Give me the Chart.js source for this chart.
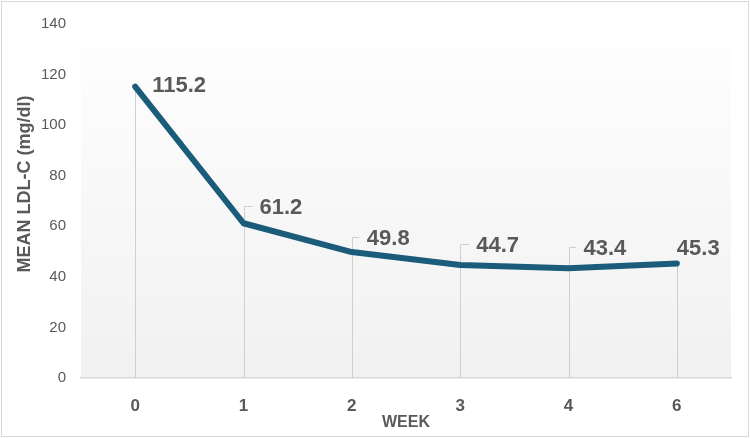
<!DOCTYPE html>
<html>
<head>
<meta charset="utf-8">
<script src="https://cdn.jsdelivr.net/npm/chart.js@4"></script>
<style>
  html, body { margin: 0; padding: 0; background: #ffffff; }
  #wrap { position: relative; width: 750px; height: 438px; box-sizing: border-box; }
  #frame { position: absolute; left: 1px; top: 1px; width: 748px; height: 436px; box-sizing: border-box; border: 1px solid #d9d9d9; pointer-events: none; }
  canvas { display: block; }
</style>
</head>
<body>
<div id="wrap">
  <canvas id="c" width="750" height="438"></canvas>
  <div id="frame"></div>
</div>
<script>
// ---- data ----
const weeks = ['0', '1', '2', '3', '4', '6'];
const meanLDL = [115.2, 61.2, 49.8, 44.7, 43.4, 45.3];
const valueLabels = ['115.2', '61.2', '49.8', '44.7', '43.4', '45.3'];
const yTicks = [0, 20, 40, 60, 80, 100, 120, 140];
const xTitle = 'WEEK';
const yTitle = 'MEAN LDL-C (mg/dl)';

// ---- styling for labels (offsets from each point, in px) ----
const labelStyle = [
  { dx: 17, dy: -1,  leader: false },
  { dx: 16, dy: -15, leader: true },
  { dx: 15, dy: -13, leader: true },
  { dx: 16, dy: -19, leader: true },
  { dx: 15, dy: -19, leader: true },
  { dx: 0,  dy: -15, leader: false }
];

const TXT = '#595959';
const LINE = '#1a5c7a';
const SANS = '"Liberation Sans", Arial, sans-serif';

const bgPlugin = {
  id: 'plotBg',
  beforeDraw(chart) {
    const { ctx, chartArea: a } = chart;
    const g = ctx.createLinearGradient(0, a.top, 0, a.bottom);
    g.addColorStop(0, '#ffffff');
    g.addColorStop(0.12, '#fdfdfd');
    g.addColorStop(1, '#f1f1f1');
    ctx.save();
    ctx.fillStyle = g;
    ctx.fillRect(a.left, a.top, a.right - a.left, a.bottom - a.top);
    ctx.restore();
  }
};

const yTitlePlugin = {
  id: 'yTitle',
  afterDraw(chart) {
    const { ctx } = chart;
    ctx.save();
    ctx.translate(25, 184);
    ctx.rotate(-Math.PI / 2);
    ctx.fillStyle = TXT;
    ctx.font = 'bold 18px ' + SANS;
    ctx.textAlign = 'center';
    ctx.textBaseline = 'middle';
    ctx.fillText(yTitle, 0, 0);
    ctx.restore();
  }
};

const dropPlugin = {
  id: 'dropLines',
  beforeDatasetsDraw(chart) {
    const { ctx, chartArea: a } = chart;
    const meta = chart.getDatasetMeta(0);
    ctx.save();
    ctx.strokeStyle = '#cfcfcf';
    ctx.lineWidth = 1;
    meta.data.forEach((pt, i) => {
      const x = Math.round(pt.x) + 0.5;
      ctx.beginPath();
      ctx.moveTo(x, pt.y);
      ctx.lineTo(x, a.bottom);
      ctx.stroke();
      const s = labelStyle[i];
      if (s.leader) {
        const ly = Math.round(pt.y + s.dy - 2) + 0.5;
        ctx.beginPath();
        ctx.moveTo(x, pt.y);
        ctx.lineTo(x, ly);
        ctx.lineTo(pt.x + s.dx - 7, ly);
        ctx.stroke();
      }
    });
    ctx.restore();
  }
};

const labelPlugin = {
  id: 'valueLabels',
  afterDatasetsDraw(chart) {
    const { ctx } = chart;
    const meta = chart.getDatasetMeta(0);
    ctx.save();
    ctx.fillStyle = TXT;
    ctx.font = 'bold 22px ' + SANS;
    ctx.textAlign = 'left';
    ctx.textBaseline = 'middle';
    meta.data.forEach((pt, i) => {
      const s = labelStyle[i];
      ctx.fillText(valueLabels[i], pt.x + s.dx, pt.y + s.dy);
    });
    ctx.restore();
  }
};

new Chart(document.getElementById('c'), {
  type: 'line',
  data: {
    labels: weeks,
    datasets: [{
      data: meanLDL,
      borderColor: LINE,
      backgroundColor: LINE,
      borderWidth: 6,
      borderCapStyle: 'round',
      borderJoinStyle: 'round',
      pointRadius: 0,
      pointHoverRadius: 0,
      tension: 0,
      fill: false
    }]
  },
  options: {
    responsive: false,
    animation: false,
    events: [],
    layout: { padding: { top: 22, right: 19, bottom: 0, left: 0 } },
    plugins: {
      legend: { display: false },
      tooltip: { enabled: false },
      title: { display: false }
    },
    scales: {
      x: {
        type: 'category',
        offset: true,
        grid: { display: false, drawTicks: false },
        border: { display: true, color: '#d9d9d9', width: 1.5 },
        ticks: {
          color: TXT,
          font: { family: SANS, size: 17, weight: 'bold' },
          padding: 18,
          maxRotation: 0
        },
        title: {
          display: true,
          text: xTitle,
          color: TXT,
          font: { family: SANS, size: 16, weight: 'bold' },
          padding: { top: 0, bottom: 6 }
        },
        afterFit(scale) { scale.height = 60; }
      },
      y: {
        min: 0,
        max: 140,
        afterBuildTicks(scale) { scale.ticks = yTicks.map(v => ({ value: v })); },
        grid: { display: false, drawTicks: false },
        border: { display: false },
        ticks: {
          color: TXT,
          font: { family: SANS, size: 15 },
          padding: 15
        },
        title: { display: false },
        afterFit(scale) { scale.width = 81; }
      }
    }
  },
  plugins: [bgPlugin, dropPlugin, labelPlugin, yTitlePlugin]
});
</script>
</body>
</html>
